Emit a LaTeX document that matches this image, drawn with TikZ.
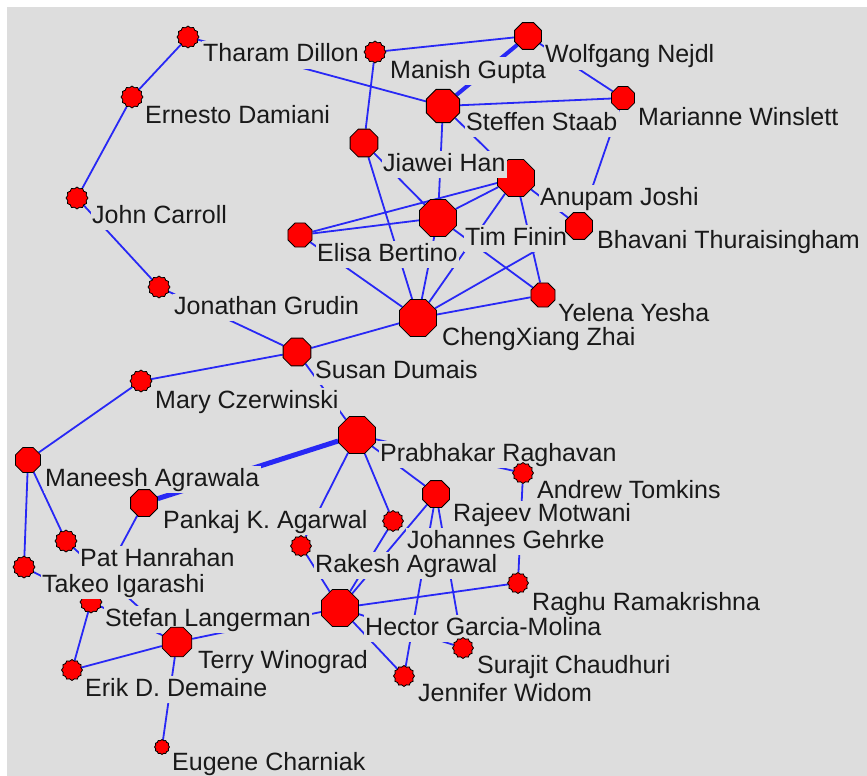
\documentclass[tikz,border=0pt]{standalone}
\usepackage{fontspec}
\setmainfont{Liberation Sans}
\usetikzlibrary{shapes.geometric}
\pgfdeclarelayer{bg}\pgfdeclarelayer{edges}\pgfdeclarelayer{under}\pgfdeclarelayer{labels}
\pgfsetlayers{bg,edges,under,labels,main}
\definecolor{bgray}{RGB}{221,221,221}
\definecolor{eblue}{RGB}{40,40,245}
\definecolor{nred}{RGB}{255,0,0}
\definecolor{txt}{RGB}{25,25,25}
\tikzset{
  big/.style={regular polygon, regular polygon sides=8, fill=nred, draw=black, line width=0.8pt, inner sep=0pt, minimum size=#1},
  small/.style={star, star points=12, star point ratio=1.15, fill=nred, draw=black, line width=0.8pt, inner sep=0pt, minimum size=#1},
  lab/.style={anchor=base west, fill=bgray, text=txt, inner xsep=1.5pt, inner ysep=1.5pt, text height=19pt, text depth=5.5pt, font=\fontsize{25}{30}\selectfont},
  edge/.style={draw=eblue, line width=1.8pt},
  heavyedge/.style={draw=eblue, line width=#1},
}
\begin{document}
\begin{tikzpicture}[x=1pt,y=-1pt]
\useasboundingbox (0,0) rectangle (867,776);
\begin{pgfonlayer}{bg}
  \fill[white] (0,0) rectangle (867,776);
  \fill[bgray] (7,7) rectangle (867,776);
\end{pgfonlayer}
% nodes partly covered by labels
\begin{pgfonlayer}{under}
\node[big=40pt] (anupam) at (516,178) {};
\node[small=22pt] (stefan) at (91,602) {};
\end{pgfonlayer}
% nodes
\node[small=22pt] (tharam) at (188,37) {};
\node[small=22pt] (manish) at (375,52) {};
\node[big=29pt] (wolfgang) at (528,36) {};
\node[small=22pt] (ernesto) at (132,97) {};
\node[big=36pt] (steffen) at (443,106) {};
\node[big=25pt] (marianne) at (623,98) {};
\node[big=30pt] (jiawei) at (364,143) {};
\node[small=22pt] (john) at (77,198) {};
\node[big=40pt] (tim) at (438,218) {};
\node[big=29pt] (bhavani) at (579,226) {};
\node[big=26pt] (elisa) at (300,235) {};
\node[small=22pt] (jonathan) at (159,287) {};
\node[big=26pt] (yelena) at (543,295) {};
\node[big=40pt] (cheng) at (418,318) {};
\node[big=30pt] (susan) at (297,352) {};
\node[small=22pt] (mary) at (141,381) {};
\node[big=40pt] (prabhakar) at (357,435) {};
\node[big=27pt] (maneesh) at (28,460) {};
\node[small=21pt] (andrew) at (523,473) {};
\node[big=29pt] (rajeev) at (436,494) {};
\node[big=29pt] (pankaj) at (144,503) {};
\node[small=21pt] (johannes) at (393,521) {};
\node[small=22pt] (pat) at (66,541) {};
\node[small=21pt] (rakesh) at (301,546) {};
\node[small=22pt] (takeo) at (24,567) {};
\node[small=21pt] (raghu) at (518,583) {};
\node[big=40pt] (hector) at (340,608) {};
\node[big=32pt] (terry) at (177,642) {};
\node[small=21pt] (surajit) at (463,648) {};
\node[small=21pt] (erik) at (72,670) {};
\node[small=21pt] (jennifer) at (404,676) {};
\node[small=15pt] (eugene) at (162,747) {};
% edges
\begin{pgfonlayer}{edges}
\draw[edge] (tharam) -- (ernesto);
\draw[edge] (ernesto) -- (john);
\draw[edge] (john) -- (jonathan);
\draw[edge] (jonathan) -- (susan);
\draw[edge] (tharam) -- (steffen);
\draw[edge] (manish) -- (wolfgang);
\draw[edge] (manish) -- (jiawei);
\draw[heavyedge=4pt] (steffen) -- (wolfgang);
\draw[edge] (steffen) -- (marianne);
\draw[edge] (wolfgang) -- (marianne);
\draw[edge] (marianne) -- (bhavani);
\draw[edge] (steffen) -- (tim);
\draw[edge] (steffen) -- (anupam);
\draw[edge] (jiawei) -- (tim);
\draw[edge] (jiawei) -- (cheng);
\draw[edge] (elisa) -- (anupam);
\draw[edge] (elisa) -- (tim);
\draw[edge] (elisa) -- (cheng);
\draw[edge] (tim) -- (anupam);
\draw[edge] (tim) -- (cheng);
\draw[edge] (tim) -- (yelena);
\draw[edge] (anupam) -- (cheng);
\draw[edge] (anupam) -- (yelena);
\draw[edge] (anupam) -- (bhavani);
\draw[edge] (bhavani) -- (cheng);
\draw[edge] (yelena) -- (cheng);
\draw[edge] (cheng) -- (susan);
\draw[edge] (susan) -- (mary);
\draw[edge] (mary) -- (maneesh);
\draw[edge] (susan) -- (prabhakar);
\draw[heavyedge=5pt] (prabhakar) -- (pankaj);
\draw[edge] (prabhakar) -- (rakesh);
\draw[edge] (prabhakar) -- (johannes);
\draw[edge] (prabhakar) -- (rajeev);
\draw[edge] (prabhakar) -- (andrew);
\draw[edge] (andrew) -- (raghu);
\draw[edge] (rajeev) -- (hector);
\draw[edge] (johannes) -- (hector);
\draw[edge] (rajeev) -- (jennifer);
\draw[edge] (rajeev) -- (surajit);
\draw[edge] (hector) -- (surajit);
\draw[edge] (hector) -- (raghu);
\draw[edge] (hector) -- (jennifer);
\draw[edge] (hector) -- (terry);
\draw[edge] (rakesh) -- (hector);
\draw[edge] (maneesh) -- (takeo);
\draw[edge] (maneesh) -- (pat);
\draw[edge] (pankaj) -- (stefan);
\draw[edge] (takeo) -- (stefan);
\draw[edge] (stefan) -- (erik);
\draw[edge] (stefan) -- (terry);
\draw[edge] (pat) -- (terry);
\draw[edge] (erik) -- (terry);
\draw[edge] (terry) -- (eugene);
\end{pgfonlayer}
% labels
\begin{pgfonlayer}{labels}
\node[lab] (l-tharam) at (201.5,62) {Tharam Dillon};
\node[lab] (l-manish) at (388.5,78) {Manish Gupta};
\node[lab] (l-wolfgang) at (543.5,63) {Wolfgang Nejdl};
\node[lab] (l-ernesto) at (143.5,123) {Ernesto Damiani};
\node[lab] (l-steffen) at (464.5,130) {Steffen Staab};
\node[lab] (l-marianne) at (636.5,125) {Marianne Winslett};
\node[lab] (l-jiawei) at (381.5,171) {Jiawei Han};
\node[lab] (l-anupam) at (538.5,205) {Anupam Joshi};
\node[lab] (l-john) at (90.5,223) {John Carroll};
\node[lab] (l-tim) at (463.5,245) {Tim Finin};
\node[lab] (l-bhavani) at (595.5,248) {Bhavani Thuraisingham};
\node[lab] (l-elisa) at (315.5,261) {Elisa Bertino};
\node[lab] (l-jonathan) at (172.5,314) {Jonathan Grudin};
\node[lab] (l-yelena) at (556.5,321) {Yelena Yesha};
\node[lab] (l-cheng) at (440.5,345) {ChengXiang Zhai};
\node[lab] (l-susan) at (313.5,378) {Susan Dumais};
\node[lab] (l-mary) at (153.5,408) {Mary Czerwinski};
\node[lab] (l-prabhakar) at (378.5,461) {Prabhakar Raghavan};
\node[lab] (l-maneesh) at (43.5,486) {Maneesh Agrawala};
\node[lab] (l-andrew) at (535.5,498) {Andrew Tomkins};
\node[lab] (l-rajeev) at (451.5,521) {Rajeev Motwani};
\node[lab] (l-pankaj) at (161.5,528) {Pankaj K. Agarwal};
\node[lab] (l-johannes) at (405.5,548) {Johannes Gehrke};
\node[lab] (l-pat) at (78.5,566) {Pat Hanrahan};
\node[lab] (l-rakesh) at (313.5,572) {Rakesh Agrawal};
\node[lab] (l-takeo) at (40.5,592) {Takeo Igarashi};
\node[lab] (l-raghu) at (530.5,610) {Raghu Ramakrishna};
\node[lab] (l-stefan) at (103.5,626) {Stefan Langerman};
\node[lab] (l-hector) at (363.5,635) {Hector Garcia-Molina};
\node[lab] (l-terry) at (196.5,668) {Terry Winograd};
\node[lab] (l-surajit) at (475.5,673) {Surajit Chaudhuri};
\node[lab] (l-erik) at (83.5,696) {Erik D. Demaine};
\node[lab] (l-jennifer) at (416.5,701) {Jennifer Widom};
\node[lab] (l-eugene) at (170.5,770) {Eugene Charniak};
\end{pgfonlayer}
\end{tikzpicture}
\end{document}
